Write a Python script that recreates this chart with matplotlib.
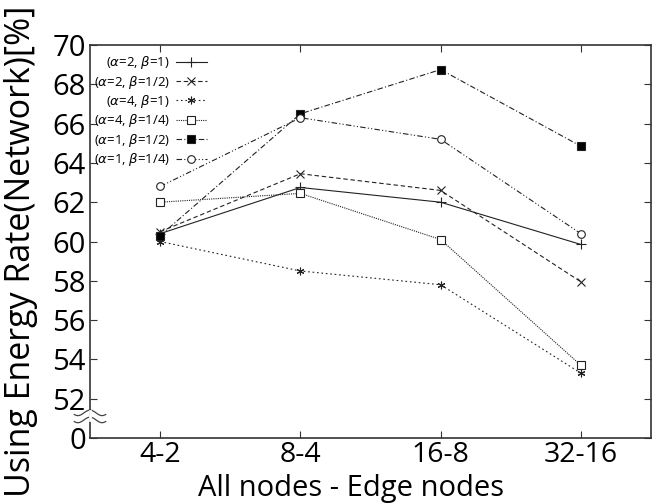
#!/usr/bin/env python3
"""Energy usage rate vs. node configuration, broken y axis."""

import matplotlib

matplotlib.use("Agg")
import matplotlib.pyplot as plt
import numpy as np

categories = ["4-2", "8-4", "16-8", "32-16"]

labels = [
    r"($\alpha$=2, $\beta$=1)",
    r"($\alpha$=2, $\beta$=1/2)",
    r"($\alpha$=4, $\beta$=1)",
    r"($\alpha$=4, $\beta$=1/4)",
    r"($\alpha$=1, $\beta$=1/2)",
    r"($\alpha$=1, $\beta$=1/4)",
]
a2_b1 = [60.4, 62.75, 62.0, 59.85]
a2_b12 = [60.5, 63.45, 62.6, 57.95]
a4_b1 = [60.0, 58.5, 57.8, 53.3]
a4_b14 = [62.0, 62.45, 60.1, 53.7]
a1_b12 = [60.3, 66.5, 68.75, 64.85]
a1_b14 = [62.8, 66.3, 65.2, 60.4]

y_ticks = [50, 52, 54, 56, 58, 60, 62, 64, 66, 68, 70]
y_ticklabels = ["0", "52", "54", "56", "58", "60", "62", "64", "66", "68", "70"]

plt.rcParams["font.family"] = ["Open Sans", "DejaVu Sans"]

fig = plt.figure(figsize=(6.54, 5.03), dpi=100)
ax = fig.add_axes([0.1376, 0.1292, 0.8578, 0.7813])

x = np.arange(len(categories))
styles = [
    dict(ls="-", marker="+", ms=7, mfc="black"),
    dict(ls=(0, (4, 2.5)), marker="x", ms=5.5, mfc="black"),
    dict(ls=(0, (1.5, 2.5)), marker=(6, 2, 0), ms=5.5, mfc="black"),
    dict(ls=(0, (1, 1)), marker="s", ms=5.5, mfc="white"),
    dict(ls=(0, (5, 2, 1, 2)), marker="s", ms=5.5, mfc="black"),
    dict(ls=(0, (5, 2, 1, 2, 1, 2)), marker="o", ms=5.5, mfc="white"),
]
series = [a2_b1, a2_b12, a4_b1, a4_b14, a1_b12, a1_b14]
for vals, lab, st in zip(series, labels, styles):
    ax.plot(x, vals, color="#222222", lw=0.8, mec="#222222", mew=0.8,
            label=lab, **st)

ax.set_xlim(-0.5, 3.5)
ax.set_ylim(50, 70)
ax.set_xticks(x)
ax.set_xticklabels(categories)
ax.set_yticks(y_ticks)
ax.set_yticklabels(y_ticklabels)
ax.tick_params(direction="in", top=True, right=True, labelsize=21,
               length=5, width=0.8, pad=3, color="#333333", labelcolor="black")
ax.tick_params(axis="x", pad=2, labelsize=20.5)
for s in ax.spines.values():
    s.set_linewidth(1.2)
    s.set_color("#333333")

ax.set_xlabel("All nodes - Edge nodes", fontsize=21)
ax.xaxis.set_label_coords(0.466, -0.092)
ax.set_ylabel("Using Energy Rate(Network)[%]", fontsize=24.5)
ax.yaxis.set_label_coords(-0.092, 0.475)

# axis break marks
wx = np.linspace(-0.028, 0.028, 60)
wy = 0.007 * np.cos(wx * np.pi / 0.028 * 1.3)
for off in (0.046, 0.064):
    ax.plot(wx, off + wy, transform=ax.transAxes,
            color="#444444", lw=0.9, clip_on=False)
ax.plot([0, 0], [0.045, 0.068], transform=ax.transAxes, color="white",
        lw=2, clip_on=False, zorder=5)

leg = ax.legend(loc="upper left", bbox_to_anchor=(-0.01, 1.0), frameon=False,
                fontsize=9.5, markerfirst=False, handlelength=2.3,
                labelspacing=0.18, handletextpad=0.5, borderaxespad=0.3)

fig.savefig("out.png", dpi=100)
